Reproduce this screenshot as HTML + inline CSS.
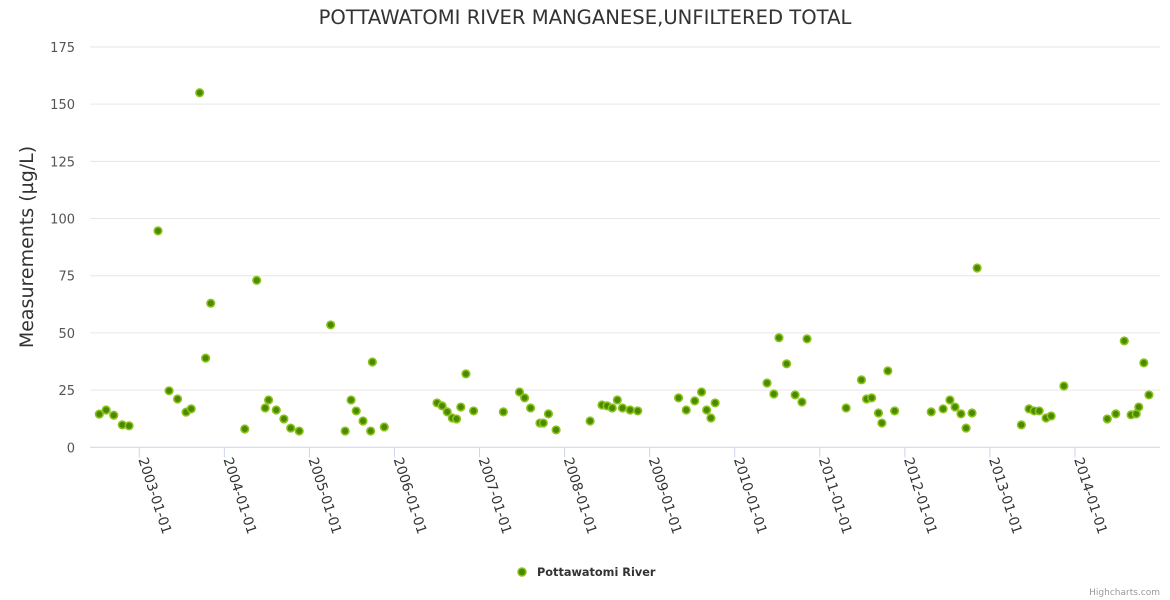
<!DOCTYPE html>
<html><head><meta charset="utf-8"><style>
body{margin:0;background:#fff;}
svg{display:block;font-family:"DejaVu Sans","Liberation Sans",sans-serif;}
</style></head><body>
<svg id="chart" width="1170" height="600" viewBox="0 0 1170 600">
<rect width="1170" height="600" fill="#fff"/>
<text x="585" y="24" text-anchor="middle" font-size="19.6" fill="#333">POTTAWATOMI RIVER MANGANESE,UNFILTERED TOTAL</text>
<g id="grid"></g>
<g id="yaxis"></g>
<g id="xaxis"></g>
<text transform="translate(33,247) rotate(-90)" text-anchor="middle" font-size="19" fill="#333">Measurements (µg/L)</text>
<g id="points"></g>
<g>
<circle cx="522" cy="572" r="4" fill="#4a8a00" stroke="#8cc21a" stroke-width="1.5"/>
<text x="537" y="576" font-size="11.3" font-weight="bold" fill="#333">Pottawatomi River</text>
</g>
<text x="1160" y="595" text-anchor="end" font-size="9" fill="#999">Highcharts.com</text>
</svg>
<script>
const years = [2002.53,2002.61,2002.70,2002.80,2002.88,2003.22,2003.35,2003.45,2003.55,2003.61,2003.71,2003.78,2003.84,2004.24,2004.38,2004.48,2004.52,2004.61,2004.70,2004.78,2004.88,2005.25,2005.42,2005.49,2005.55,2005.63,2005.72,2005.74,2005.88,2006.50,2006.56,2006.62,2006.68,2006.73,2006.78,2006.84,2006.93,2007.28,2007.47,2007.53,2007.60,2007.71,2007.75,2007.81,2007.90,2008.30,2008.44,2008.50,2008.56,2008.62,2008.68,2008.77,2008.86,2009.34,2009.43,2009.53,2009.61,2009.67,2009.72,2009.77,2010.38,2010.46,2010.52,2010.61,2010.71,2010.79,2010.85,2011.31,2011.49,2011.55,2011.61,2011.69,2011.73,2011.80,2011.88,2012.31,2012.45,2012.53,2012.59,2012.66,2012.72,2012.79,2012.85,2013.37,2013.46,2013.52,2013.58,2013.66,2013.72,2013.87,2014.38,2014.48,2014.58,2014.66,2014.72,2014.75,2014.81,2014.87];
const values = [14.5,16.3,14,9.8,9.4,94.6,24.7,21.1,15.4,16.8,155,39,63,8,73,17.2,20.7,16.3,12.4,8.4,7.1,53.5,7.1,20.7,15.9,11.5,7.1,37.3,8.9,19.4,18.1,15.5,12.8,12.4,17.6,32.1,15.9,15.5,24.2,21.6,17.2,10.6,10.6,14.6,7.6,11.5,18.5,18.1,17.2,20.7,17.2,16.3,15.9,21.6,16.3,20.3,24.2,16.3,12.8,19.4,28.1,23.3,47.9,36.5,22.9,19.8,47.4,17.2,29.5,21.1,21.6,15,10.6,33.4,15.9,15.5,16.8,20.7,17.6,14.6,8.4,15,78.4,9.8,16.8,15.9,15.9,12.8,13.7,26.8,12.4,14.6,46.5,14.2,14.6,17.6,36.9,22.9];
const yTicks = [0,25,50,75,100,125,150,175];
const xTickYears = [2003,2004,2005,2006,2007,2008,2009,2010,2011,2012,2013,2014];
const xTickLabels = ["2003-01-01","2004-01-01","2005-01-01","2006-01-01","2007-01-01","2008-01-01","2009-01-01","2010-01-01","2011-01-01","2012-01-01","2013-01-01","2014-01-01"];

const NS="http://www.w3.org/2000/svg";
const L=90,R=1160,T=47,B=447.3;
const xS=y=>139.3+(y-2003)*85.06;
const yS=v=>B-(v/175)*(B-T);
function mk(tag,attrs,parent,txt){const e=document.createElementNS(NS,tag);for(const k in attrs)e.setAttribute(k,attrs[k]);if(txt!=null)e.textContent=txt;parent.appendChild(e);return e;}
const grid=document.getElementById('grid'),ya=document.getElementById('yaxis'),xa=document.getElementById('xaxis'),pts=document.getElementById('points');
yTicks.forEach(t=>{
  const y=yS(t);
  if(t>0){const g=mk('line',{x1:L,x2:R,y1:y,y2:y,stroke:'#e6e6e6','stroke-width':1},grid);
    
    }
  const lb=mk('text',{x:75,y:y+5,'text-anchor':'end','font-size':13,fill:'#555'},ya,String(t));
  
  
});
const axl=mk('line',{x1:L,x2:R,y1:B,y2:B,stroke:'#ccd6eb','stroke-width':1},xa);


xTickYears.forEach((yr,i)=>{
  const x=xS(yr);
  const tk=mk('line',{x1:x,x2:x,y1:B,y2:B+10,stroke:'#ccd6eb','stroke-width':1},xa);
  
  
  const lb=mk('text',{transform:`translate(${x-1},${B+12}) rotate(72)`,'font-size':13.7,fill:'#333'},xa,xTickLabels[i]);
  
  
});
years.forEach((yr,i)=>{
  const c=mk('circle',{cx:xS(yr),cy:yS(values[i]),r:3.8,fill:'#4a8a00',stroke:'#8cc21a','stroke-width':1.6},pts);
  
  
});
</script>
</body></html>
